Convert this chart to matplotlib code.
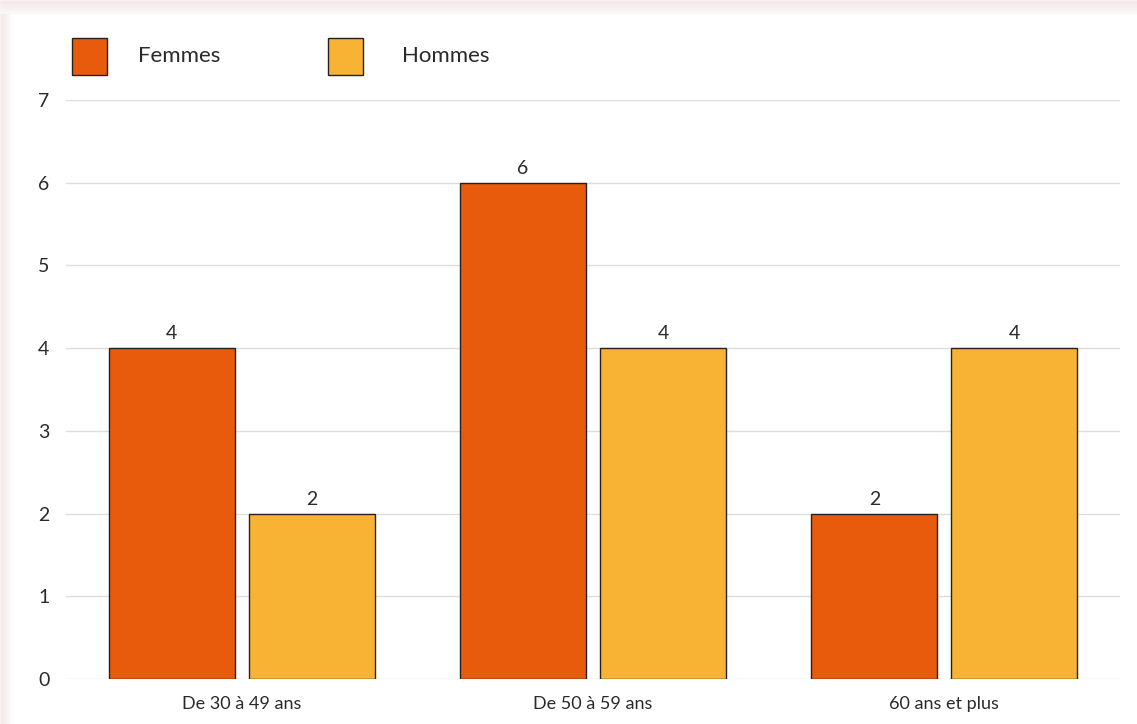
import matplotlib
matplotlib.use("Agg")
import matplotlib.pyplot as plt
from matplotlib.patches import Rectangle
import numpy as np

categories = ["De 30 à 49 ans", "De 50 à 59 ans", "60 ans et plus"]
femmes = [4, 6, 2]
hommes = [2, 4, 4]
series_names = ["Femmes", "Hommes"]
yticks = [0, 1, 2, 3, 4, 5, 6, 7]

c_f = "#e95b0c"
c_h = "#f8b334"

plt.rcParams['font.family'] = ['Lato', 'DejaVu Sans']
txt = "#2a2a2a"

W, H = 1137, 724
fig = plt.figure(figsize=(W/100, H/100), dpi=100)
fig.patch.set_facecolor("white")

# pale shadow on top/left edges
for i in range(14):
    a = 0.10 * (1 - i/14)
    fig.patches.append(Rectangle((0, 1 - (i+1)/H), 1, 1/H, transform=fig.transFigure,
                                 color="#e8b4b8", alpha=a, zorder=-10))
for i in range(10):
    a = 0.10 * (1 - i/10)
    fig.patches.append(Rectangle((i/W, 0), 1/W, 1 - 14/H, transform=fig.transFigure,
                                 color="#e8b4b8", alpha=a, zorder=-10))

left, right = 66/W, 1120/W
bottom, top = 1 - 679/H, 1 - 100/H
ax = fig.add_axes([left, bottom, right-left, top-bottom])

x = np.arange(len(categories))
bw = 0.359
off = 0.199
b1 = ax.bar(x - off, femmes, bw, color=c_f, edgecolor="#222222", linewidth=1, zorder=3)
b2 = ax.bar(x + off, hommes, bw, color=c_h, edgecolor="#222222", linewidth=1, zorder=3)

for bars, vals in ((b1, femmes), (b2, hommes)):
    for r, v in zip(bars, vals):
        ax.text(r.get_x() + r.get_width()/2, v + 0.07, str(v), ha="center", va="bottom",
                fontsize=14, color=txt)

ax.set_xlim(-0.5, 2.5)
ax.set_ylim(0, 7)
ax.set_yticks(yticks)
ax.set_yticklabels([str(t) for t in yticks], fontsize=14, color=txt)
ax.set_xticks(x)
ax.set_xticklabels(categories, fontsize=13, color=txt)
ax.tick_params(axis="both", length=0)
for t in ax.get_yticklabels():
    t.set_horizontalalignment("left")
ax.tick_params(axis="y", pad=20)
ax.tick_params(axis="x", pad=12)
ax.grid(axis="y", color="#dddddd", linewidth=1, zorder=0)
for s in ax.spines.values():
    s.set_visible(False)
ax.set_facecolor("none")

# legend
for (sx, tx, col, name) in ((72, 138, c_f, series_names[0]), (328, 402, c_h, series_names[1])):
    fig.patches.append(Rectangle((sx/W, 1 - 75/H), 35/W, 37/H, transform=fig.transFigure,
                                 facecolor=col, edgecolor="#222222", linewidth=1))
    fig.text(tx/W, 1 - 56/H, name, fontsize=16, color=txt, va="center", ha="left")

fig.savefig("out.png", dpi=100)
